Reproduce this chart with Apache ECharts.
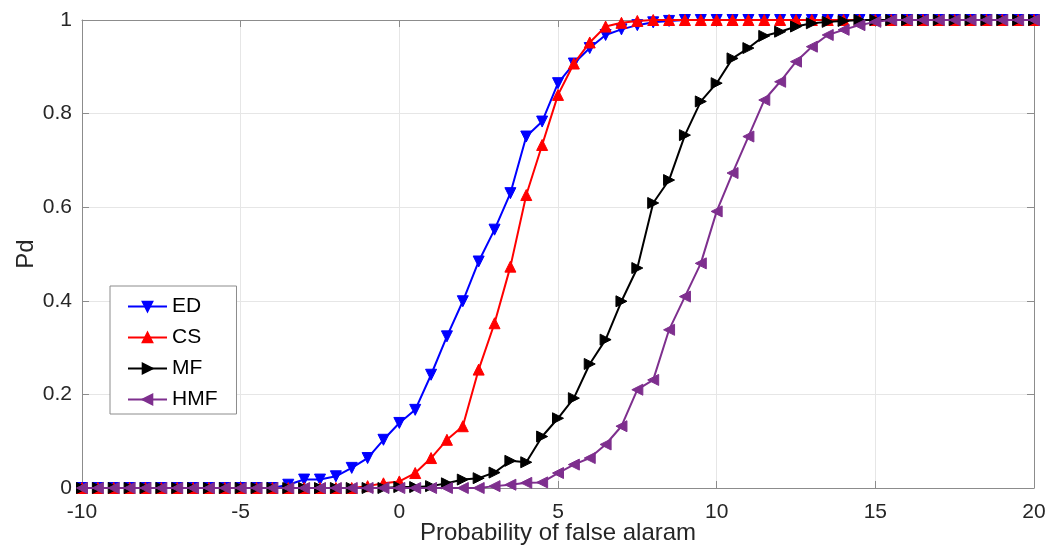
<!DOCTYPE html>
<html>
<head>
<meta charset="utf-8">
<script src="https://cdn.jsdelivr.net/npm/echarts@6/dist/echarts.min.js"></script>
<style>html,body{margin:0;padding:0;background:#fff}#c{width:1062px;height:547px}</style>
</head>
<body>
<div id="c"></div>
<script>
const xValues = [-10,-9.5,-9,-8.5,-8,-7.5,-7,-6.5,-6,-5.5,-5,-4.5,-4,-3.5,-3,-2.5,-2,-1.5,-1,-0.5,0,0.5,1,1.5,2,2.5,3,3.5,4,4.5,5,5.5,6,6.5,7,7.5,8,8.5,9,9.5,10,10.5,11,11.5,12,12.5,13,13.5,14,14.5,15,15.5,16,16.5,17,17.5,18,18.5,19,19.5,20];
const xTicks = [-10,-5,0,5,10,15,20];
const yTicks = [0,0.2,0.4,0.6,0.8,1];
const seriesNames = ['ED','CS','MF','HMF'];
const ED = [0,0,0,0,0,0,0,0,0,0,0,0,0,
  0.007,0.018,0.018,0.025,0.043,0.064,0.103,0.139,0.167,0.242,0.324,0.399,0.484,0.552,0.630,0.751,0.783,0.865,0.907,0.940,0.968,0.980,0.989,0.995,0.998,
  1,1,1,1,1,1,1,1,1,1,1,1,1,1,1,1,1,1,1,1,1,1,1];
const CS = [0,0,0,0,0,0,0,0,0,0,0,0,0,0,0,0,0,0,
  0.004,0.010,0.014,0.032,0.064,0.103,0.132,0.253,0.352,0.473,0.626,0.733,0.840,0.907,0.952,0.986,0.994,0.998,
  1,1,1,1,1,1,1,1,1,1,1,1,1,1,1,1,1,1,1,1,1,1,1,1,1];
const MF = [0,0,0,0,0,0,0,0,0,0,0,0,0,0,0,0,0,0,0,0,
  0.002,0.002,0.004,0.010,0.018,0.021,0.033,0.058,0.055,0.110,0.149,0.192,0.265,0.317,0.399,0.470,0.609,0.658,0.754,0.826,0.865,0.918,0.940,0.966,0.975,0.986,0.993,0.996,0.998,
  1,1,1,1,1,1,1,1,1,1,1,1];
const HMF = [0,0,0,0,0,0,0,0,0,0,0,0,0,0,0,0,0,0,0,0,0,0,0,0,0,0,
  0.004,0.007,0.011,0.012,0.032,0.050,0.064,0.093,0.132,0.210,0.231,0.338,0.409,0.480,0.591,0.673,0.751,0.829,0.868,0.911,0.943,0.968,0.979,0.989,0.996,
  1,1,1,1,1,1,1,1,1,1];

const colors = ['#0000ff','#ff0000','#000000','#7e2f8e'];
const rotations = [180, 0, -90, 90];
const allData = [ED, CS, MF, HMF];

const chart = echarts.init(document.getElementById('c'), null, {renderer:'canvas'});
const font = '"Liberation Sans", Arial, sans-serif';

const series = seriesNames.map((name, i) => ({
  name: name,
  type: 'line',
  data: xValues.map((x, k) => [x, allData[i][k]]),
  symbol: 'triangle',
  symbolSize: 11,
  symbolRotate: rotations[i],
  showAllSymbol: true,
  lineStyle: {color: colors[i], width: 2},
  itemStyle: {color: colors[i], borderColor: colors[i], borderWidth: 1},
  emphasis: {disabled: true},
  animation: false,
  z: 2 + i
}));

const axisLineStyle = {show: true, onZero: false, lineStyle: {color: '#8c8c8c', width: 1}};
const axisTickStyle = {show: true, inside: true, length: 7, lineStyle: {color: '#8c8c8c'}};

chart.setOption({
  animation: false,
  backgroundColor: '#ffffff',
  grid: {left: 82, right: 28, top: 20, bottom: 59, containLabel: false, outerBoundsMode: 'none'},
  legend: {
    orient: 'vertical',
    left: 110, top: 286,
    data: seriesNames,
    itemWidth: 39, itemHeight: 12,
    itemGap: 10,
    padding: [10, 19, 4, 17],
    borderColor: '#8c8c8c', borderWidth: 1,
    backgroundColor: '#ffffff',
    textStyle: {fontFamily: font, fontSize: 21, color: '#000'},
    selectedMode: false
  },
  xAxis: [{
    type: 'value', min: -10, max: 20, interval: 5,
    name: 'Probability of false alaram', nameLocation: 'middle', nameGap: 33,
    nameMoveOverlap: false,
    nameTextStyle: {fontFamily: font, fontSize: 24, color: '#262626'},
    axisLabel: {fontFamily: font, fontSize: 21, color: '#262626', margin: 14,
      formatter: v => (xTicks.includes(v) ? String(v) : '')},
    splitLine: {show: true, lineStyle: {color: '#e6e6e6', width: 1}},
    axisLine: axisLineStyle, axisTick: axisTickStyle
  }, {
    type: 'value', min: -10, max: 20, interval: 5, position: 'top',
    axisLabel: {show: false}, splitLine: {show: false},
    axisLine: axisLineStyle, axisTick: axisTickStyle
  }],
  yAxis: [{
    type: 'value', min: 0, max: 1, interval: 0.2,
    name: 'Pd', nameLocation: 'middle', nameGap: 44, nameRotate: 90,
    nameMoveOverlap: false,
    nameTextStyle: {fontFamily: font, fontSize: 24, color: '#262626'},
    axisLabel: {fontFamily: font, fontSize: 21, color: '#262626', margin: 10,
      formatter: v => (yTicks.includes(v) ? String(v) : '')},
    splitLine: {show: true, lineStyle: {color: '#e6e6e6', width: 1}},
    axisLine: axisLineStyle, axisTick: axisTickStyle
  }, {
    type: 'value', min: 0, max: 1, interval: 0.2, position: 'right',
    axisLabel: {show: false}, splitLine: {show: false},
    axisLine: axisLineStyle, axisTick: axisTickStyle
  }],
  series: series
});
</script>
</body>
</html>
